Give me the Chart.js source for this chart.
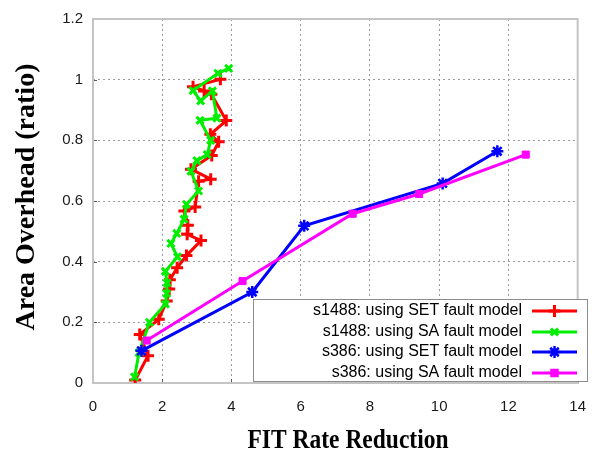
<!DOCTYPE html>
<html>
<head>
<meta charset="utf-8">
<script src="https://cdn.jsdelivr.net/npm/chart.js@4/dist/chart.umd.min.js"></script>
<style>
  html, body { margin: 0; padding: 0; background: #ffffff; }
  #wrap { width: 601px; height: 453px; }
</style>
</head>
<body>
<div id="wrap"><canvas id="chart" width="601" height="453"></canvas></div>
<script>
// Axis ticks
const xTickValues = [0, 2, 4, 6, 8, 10, 12, 14];
const yTickValues = [0, 0.2, 0.4, 0.6, 0.8, 1.0, 1.2];

// Series labels
const seriesLabels = [
  's1488: using SET fault model',
  's1488: using SA fault model',
  's386: using SET fault model',
  's386: using SA fault model'
];

// s1488, SET fault model
const s1488SetFit  = [1.22, 1.59, 1.35, 1.90, 2.13, 2.20, 2.22, 2.43, 2.70, 3.12, 2.72, 2.74, 2.64, 2.95, 3.05, 3.40, 2.83, 3.43, 3.63, 3.39, 3.85, 3.42, 3.21, 2.89, 3.68];
const s1488SetArea = [0.01, 0.09, 0.16, 0.21, 0.27, 0.31, 0.34, 0.38, 0.42, 0.47, 0.49, 0.52, 0.567, 0.58, 0.665, 0.672, 0.705, 0.75, 0.795, 0.82, 0.865, 0.952, 0.963, 0.977, 1.001];

// s1488, SA fault model
const s1488SaFit  = [1.20, 1.33, 1.63, 2.09, 2.13, 2.14, 2.09, 2.44, 2.25, 2.42, 2.63, 2.70, 3.05, 2.83, 3.00, 3.30, 3.40, 3.09, 3.58, 3.45, 3.11, 2.89, 3.61, 3.92];
const s1488SaArea = [0.02, 0.10, 0.20, 0.26, 0.295, 0.33, 0.368, 0.416, 0.46, 0.493, 0.54, 0.589, 0.633, 0.698, 0.733, 0.753, 0.80, 0.866, 0.873, 0.963, 0.930, 0.964, 1.021, 1.037];

// s386, SET fault model
const s386SetFit  = [1.40, 4.60, 6.10, 10.10, 11.68];
const s386SetArea = [0.106, 0.30, 0.518, 0.658, 0.764];

// s386, SA fault model
const s386SaFit  = [1.55, 4.32, 7.50, 9.42, 12.50];
const s386SaArea = [0.14, 0.336, 0.558, 0.623, 0.753];

const toPoints = (xs, ys) => xs.map((x, i) => ({ x: x, y: ys[i] }));

const styles = [
  { color: '#ff0000', pointStyle: 'cross',    radius: 6, border: 3 },
  { color: '#00ee00', pointStyle: 'crossRot', radius: 5, border: 3 },
  { color: '#0000ff', pointStyle: 'star',     radius: 6, border: 2.5 },
  { color: '#ff00ff', pointStyle: 'rect',     radius: 5, border: 1 }
];

const seriesData = [
  toPoints(s1488SetFit, s1488SetArea),
  toPoints(s1488SaFit, s1488SaArea),
  toPoints(s386SetFit, s386SetArea),
  toPoints(s386SaFit, s386SaArea)
];

const datasets = seriesData.map((pts, i) => ({
  label: seriesLabels[i],
  data: pts,
  showLine: true,
  borderColor: styles[i].color,
  backgroundColor: styles[i].color,
  borderWidth: 3,
  pointStyle: styles[i].pointStyle,
  pointRadius: styles[i].radius,
  pointBorderWidth: styles[i].border,
  pointBorderColor: styles[i].color,
  pointBackgroundColor: styles[i].color,
  tension: 0,
  order: 4 - i
}));

function drawMarker(ctx, style, x, y) {
  const r = style.radius;
  ctx.save();
  ctx.strokeStyle = style.color;
  ctx.fillStyle = style.color;
  ctx.lineWidth = style.border;
  ctx.beginPath();
  if (style.pointStyle === 'cross') {
    ctx.moveTo(x - r, y); ctx.lineTo(x + r, y);
    ctx.moveTo(x, y - r); ctx.lineTo(x, y + r);
    ctx.stroke();
  } else if (style.pointStyle === 'crossRot') {
    const d = r * Math.SQRT1_2;
    ctx.moveTo(x - d, y - d); ctx.lineTo(x + d, y + d);
    ctx.moveTo(x - d, y + d); ctx.lineTo(x + d, y - d);
    ctx.stroke();
  } else if (style.pointStyle === 'star') {
    const d = r * Math.SQRT1_2;
    ctx.moveTo(x - r, y); ctx.lineTo(x + r, y);
    ctx.moveTo(x, y - r); ctx.lineTo(x, y + r);
    ctx.moveTo(x - d, y - d); ctx.lineTo(x + d, y + d);
    ctx.moveTo(x - d, y + d); ctx.lineTo(x + d, y - d);
    ctx.stroke();
  } else {
    const s = r * Math.SQRT1_2 * 1.2;
    ctx.fillRect(x - s, y - s, 2 * s, 2 * s);
  }
  ctx.restore();
}

// Tick labels without trailing zeros: 0, 0.2, ..., 1, 1.2
const plainNumber = v => String(Number(Number(v).toFixed(2)));

// Plot frame, inward tick marks, axis titles and the boxed legend
const decorations = {
  id: 'decorations',
  beforeDatasetsDraw(chart) {
    const { ctx, chartArea: a, scales } = chart;
    ctx.save();
    ctx.strokeStyle = '#5a5a5a';
    ctx.lineWidth = 1;
    xTickValues.forEach(v => {
      const px = Math.round(scales.x.getPixelForValue(v)) + 0.5;
      ctx.beginPath();
      ctx.moveTo(px, a.bottom); ctx.lineTo(px, a.bottom - 4);
      ctx.stroke();
    });
    yTickValues.forEach(v => {
      const py = Math.round(scales.y.getPixelForValue(v)) + 0.5;
      ctx.beginPath();
      ctx.moveTo(a.left, py); ctx.lineTo(a.left + 4, py);
      ctx.stroke();
    });
    ctx.strokeStyle = '#c4c4c4';
    ctx.lineWidth = 2;
    ctx.strokeRect(a.left, a.top, a.right - a.left, a.bottom - a.top);
    ctx.restore();
  },
  afterDraw(chart) {
    const { ctx } = chart;
    ctx.save();

    // Legend box
    const lx = 253, ly = 299, lw = 334, lh = 82;
    ctx.fillStyle = '#ffffff';
    ctx.fillRect(lx, ly, lw, lh);
    ctx.strokeStyle = '#8c8c8c';
    ctx.lineWidth = 1;
    ctx.strokeRect(lx + 0.5, ly + 0.5, lw, lh);
    ctx.font = '16px "Liberation Sans", Arial, sans-serif';
    ctx.textAlign = 'right';
    ctx.textBaseline = 'middle';
    const rowY = [311, 332, 352, 373];
    seriesLabels.forEach((label, i) => {
      const y = rowY[i];
      ctx.fillStyle = '#000000';
      ctx.fillText(label, 522, y);
      ctx.strokeStyle = styles[i].color;
      ctx.lineWidth = 3;
      ctx.beginPath();
      ctx.moveTo(532, y); ctx.lineTo(577, y);
      ctx.stroke();
      drawMarker(ctx, styles[i], 554.5, y);
    });

    // Axis titles
    ctx.fillStyle = '#000000';
    ctx.font = 'bold 28px "Liberation Serif", "Times New Roman", serif';
    ctx.textAlign = 'center';
    ctx.textBaseline = 'middle';
    const xt = 'FIT Rate Reduction';
    const xw = ctx.measureText(xt).width;
    ctx.save();
    ctx.translate(348, 441);
    ctx.scale(201 / xw, 1);
    ctx.fillText(xt, 0, 0);
    ctx.restore();

    ctx.save();
    ctx.translate(27, 197);
    ctx.rotate(-Math.PI / 2);
    ctx.fillText('Area Overhead (ratio)', 0, 0);
    ctx.restore();

    ctx.restore();
  }
};

new Chart(document.getElementById('chart'), {
  type: 'scatter',
  data: { datasets: datasets },
  options: {
    responsive: false,
    animation: false,
    devicePixelRatio: 1,
    layout: { padding: { top: 17, right: 10, left: 0, bottom: 0 } },
    plugins: {
      legend: { display: false },
      tooltip: { enabled: false }
    },
    scales: {
      x: {
        type: 'linear',
        min: 0,
        max: 14,
        afterBuildTicks: s => { s.ticks = xTickValues.map(v => ({ value: v })); },
        afterFit: s => { s.height = 70; },
        ticks: {
          padding: 15,
          color: '#1a1a1a',
          callback: plainNumber,
          font: { family: '"Liberation Sans", Arial, sans-serif', size: 15 }
        },
        grid: {
          drawTicks: false,
          lineWidth: 1,
          color: c => (c.tick && (c.tick.value === 0 || c.tick.value === 14)) ? 'rgba(0,0,0,0)' : '#9a9a9a'
        },
        border: { display: false, dash: [2, 3] }
      },
      y: {
        type: 'linear',
        min: 0,
        max: 1.2,
        afterBuildTicks: s => { s.ticks = yTickValues.map(v => ({ value: v })); },
        afterFit: s => { s.width = 93; },
        ticks: {
          padding: 10,
          color: '#1a1a1a',
          callback: plainNumber,
          font: { family: '"Liberation Sans", Arial, sans-serif', size: 15 }
        },
        grid: {
          drawTicks: false,
          lineWidth: 1,
          color: c => (c.tick && (c.tick.value === 0 || Math.abs(c.tick.value - 1.2) < 1e-9)) ? 'rgba(0,0,0,0)' : '#9a9a9a'
        },
        border: { display: false, dash: [2, 3] }
      }
    }
  },
  plugins: [decorations]
});
</script>
</body>
</html>
